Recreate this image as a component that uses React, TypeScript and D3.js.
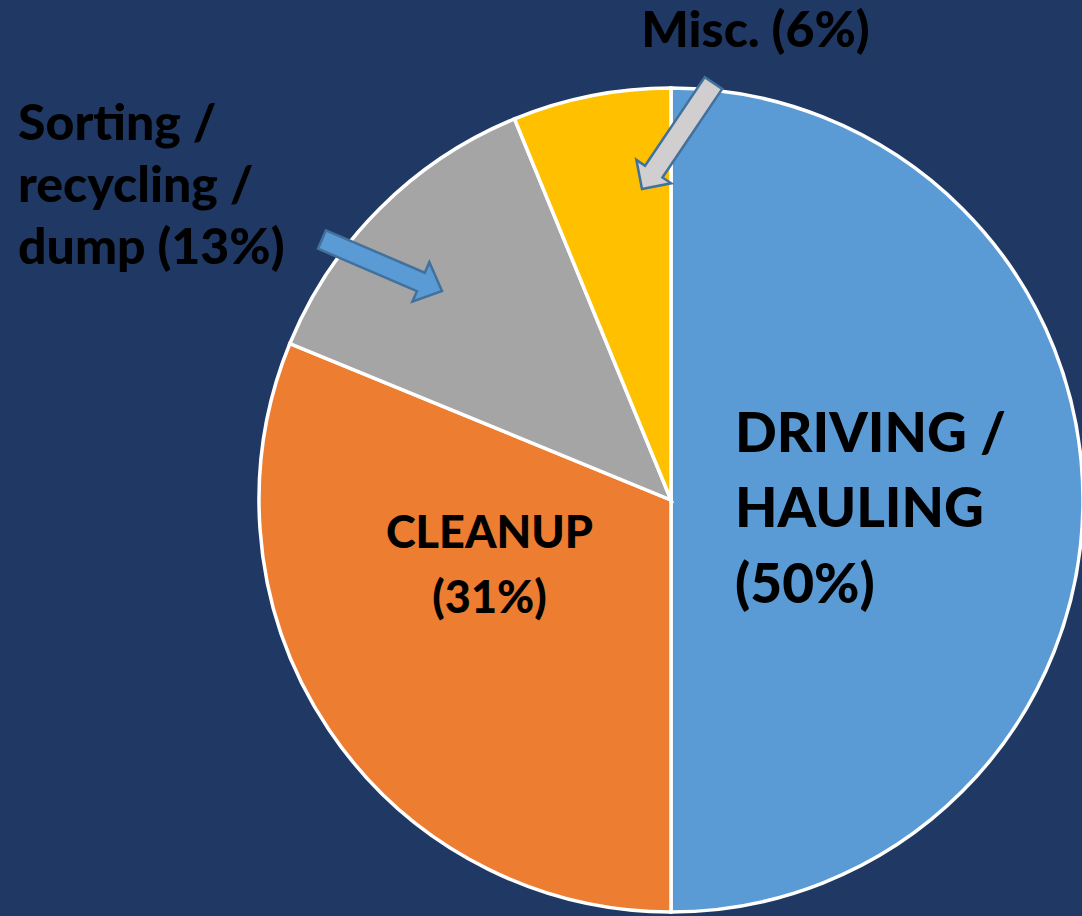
import * as d3 from "d3";
import React from "react";

const categories = ["DRIVING / HAULING", "CLEANUP", "Sorting / recycling / dump", "Misc."];
const values = [50, 31.2, 12.6, 6.2];
const colors = ["#5B9BD5", "#ED7D31", "#A5A5A5", "#FFC000"];

const W = 1082;
const H = 916;
const cx = 671;
const cy = 500;
const R = 412;

// block arrow polygon from tail centre to tip
const blockArrow = (
	tail: [number, number],
	tip: [number, number],
	shaftW: number,
	headW: number,
	headL: number
): string => {
	const dx = tip[0] - tail[0];
	const dy = tip[1] - tail[1];
	const len = Math.sqrt(dx * dx + dy * dy);
	const ux = dx / len,
		uy = dy / len;
	const nx = -uy,
		ny = ux;
	const bx = tip[0] - ux * headL,
		by = tip[1] - uy * headL;
	const pts: [number, number][] = [
		[tail[0] + (nx * shaftW) / 2, tail[1] + (ny * shaftW) / 2],
		[bx + (nx * shaftW) / 2, by + (ny * shaftW) / 2],
		[bx + (nx * headW) / 2, by + (ny * headW) / 2],
		tip,
		[bx - (nx * headW) / 2, by - (ny * headW) / 2],
		[bx - (nx * shaftW) / 2, by - (ny * shaftW) / 2],
		[tail[0] - (nx * shaftW) / 2, tail[1] - (ny * shaftW) / 2],
	];
	return "M" + pts.map((p) => p.join(",")).join("L") + "Z";
};

const pct = (v: number) => `(${Math.round(v)}%)`;

const App = (): JSX.Element => {
	const pie = d3
		.pie<number>()
		.sort(null)
		.value((d) => d);
	const arcs = pie(values);
	const arc = d3.arc<d3.PieArcDatum<number>>().innerRadius(0).outerRadius(R);

	const font = "Lato, 'Open Sans', sans-serif";

	return (
		<svg
			width={W}
			height={H}
			style={{ position: "absolute", left: 0, top: 0, display: "block" }}
			fontFamily={font}
			fontWeight={900}
		>
			<rect width={W} height={H} fill="#203864" />
			<g transform={`translate(${cx},${cy})`}>
				{arcs.map((a, i) => (
					<path key={categories[i]} d={arc(a)!} fill={colors[i]} stroke="#fff" strokeWidth={3.5} />
				))}
			</g>

			{/* arrows */}
			<path
				d={blockArrow([713.5, 83], [642, 189], 21, 42, 21)}
				fill="#D0CECE"
				stroke="#41719C"
				strokeWidth={2.5}
			/>
			<path
				d={blockArrow([322, 239.5], [442, 291], 20, 43, 23)}
				fill="#5B9BD5"
				stroke="#41719C"
				strokeWidth={2.5}
			/>

			{/* labels */}
			<text x={755.5} y={47} fontSize={50} textAnchor="middle" fill="#000">
				Misc. {pct(values[3])}
			</text>
			<text fontSize={50} fill="#000">
				<tspan x={18} y={140}>Sorting /</tspan>
				<tspan x={18} y={202}>recycling /</tspan>
				<tspan x={18} y={264}>dump {pct(values[2])}</tspan>
			</text>
			<text fontSize={45} textAnchor="middle" fill="#000">
				<tspan x={489.5} y={548}>CLEANUP</tspan>
				<tspan x={489.5} y={613}>{pct(values[1])}</tspan>
			</text>
			<text fontSize={55} fill="#000">
				<tspan x={735} y={452}>DRIVING /</tspan>
				<tspan x={735} y={527}>HAULING</tspan>
				<tspan x={735} y={603}>{pct(values[0])}</tspan>
			</text>
		</svg>
	);
};

export default App;
